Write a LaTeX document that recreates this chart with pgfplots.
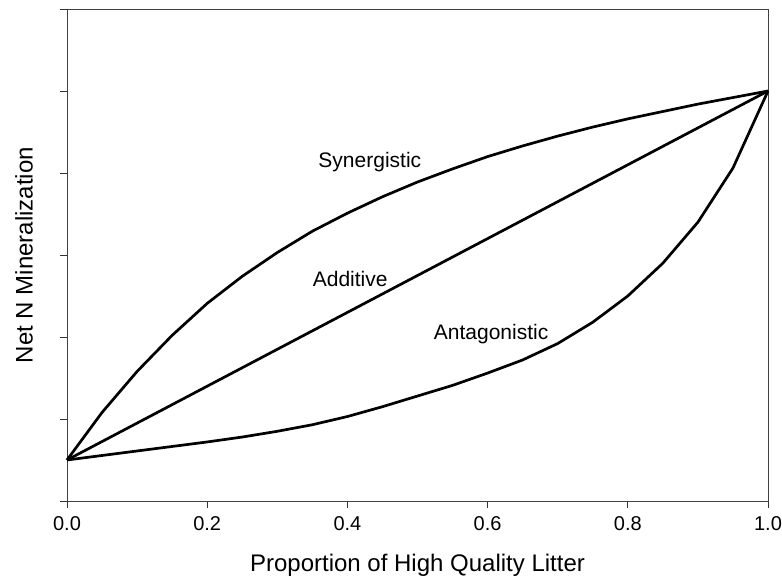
\documentclass[border=0pt]{standalone}
\usepackage{pgfplots}
\pgfplotsset{compat=1.18}
\usepackage{fontspec}
\setmainfont{Liberation Sans}
\pgfplotstableread{
x syn add ant
0.00 0.50 0.50 0.50
0.05 1.08 0.725 0.555
0.10 1.58 0.95 0.61
0.15 2.02 1.175 0.665
0.20 2.41 1.40 0.72
0.25 2.74 1.625 0.78
0.30 3.03 1.85 0.85
0.35 3.29 2.075 0.93
0.40 3.51 2.30 1.03
0.45 3.71 2.525 1.15
0.50 3.89 2.75 1.28
0.55 4.05 2.975 1.41
0.60 4.20 3.20 1.56
0.65 4.33 3.425 1.72
0.70 4.45 3.65 1.92
0.75 4.56 3.875 2.18
0.80 4.66 4.10 2.50
0.85 4.75 4.325 2.90
0.90 4.84 4.55 3.40
0.95 4.92 4.775 4.06
1.00 5.00 5.00 5.00
}\datatable
\begin{document}
\begin{tikzpicture}
\useasboundingbox (-67pt,-84pt) rectangle (715pt,501pt);
\begin{axis}[
  at={(0,0)}, anchor=south west,
  scale only axis,
  width=701pt, height=492pt,
  xmin=0, xmax=1, ymin=0, ymax=6,
  xtick={0,0.2,0.4,0.6,0.8,1.0},
  ytick={0,1,2,3,4,5,6},
  yticklabels={},
  xtick pos=bottom, ytick pos=left,
  tick align=outside,
  major tick length=7pt,
  axis line style={black!75, line width=0.8pt},
  every tick/.style={black!80, line width=0.8pt},
  /pgf/number format/assume math mode=true,
  /pgf/number format/fixed,
  /pgf/number format/fixed zerofill,
  /pgf/number format/precision=1,
  tick label style={font=\fontsize{20}{24}\selectfont},
  xticklabel shift=5pt,
  xlabel={Proportion of High Quality Litter},
  ylabel={Net N Mineralization},
  xlabel style={font=\fontsize{24}{28}\selectfont, at={(axis description cs:0.5,-0.130)}, anchor=center},
  ylabel style={font=\fontsize{24}{28}\selectfont, at={(axis description cs:-0.0613,0.5)}, anchor=center},
  clip=false,
]
\addplot[black, line width=2.7pt, line join=round] table[x=x, y=syn] {\datatable};
\addplot[black, line width=2.7pt, line join=round] table[x=x, y=add] {\datatable};
\addplot[black, line width=2.7pt, line join=round] table[x=x, y=ant] {\datatable};
\node[font=\fontsize{21}{24}\selectfont] at (axis cs:0.432,4.13) {Synergistic};
\node[font=\fontsize{21}{24}\selectfont] at (axis cs:0.404,2.71) {Additive};
\node[font=\fontsize{21}{24}\selectfont] at (axis cs:0.605,2.04) {Antagonistic};
\end{axis}
\end{tikzpicture}
\end{document}
